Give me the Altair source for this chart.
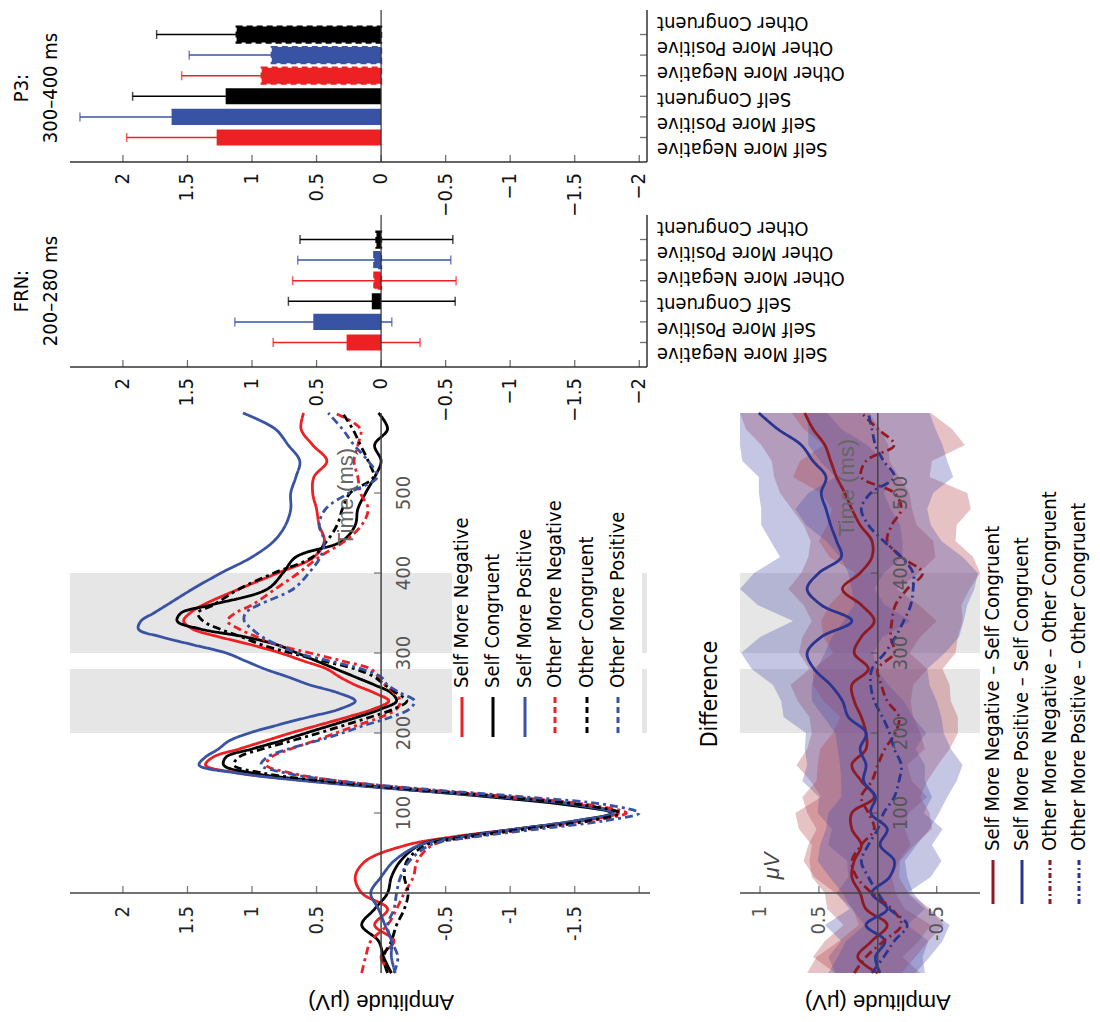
import altair as alt
import pandas as pd

NARROW = "'Liberation Sans Narrow', 'DejaVu Sans Condensed', 'Liberation Sans', sans-serif"
REG = "'Liberation Sans', Arial, sans-serif"
FS = 20

RED = "#ED2024"
BLUE = "#3953A4"
BLACK = "#000000"
DRED = "#8E1B24"
DBLUE = "#2B3590"

# ---------------- bar-chart data ----------------
bar_conditions = ["Self More Negative", "Self More Positive", "Self Congruent",
                  "Other More Negative", "Other More Positive", "Other Congruent"]
bar_colors = [RED, BLUE, BLACK, RED, BLUE, BLACK]
p3_mean = [1.274, 1.623, 1.204, 0.925, 0.847, 1.119]
p3_err = [0.697, 0.710, 0.721, 0.620, 0.639, 0.620]
frn_mean = [0.267, 0.525, 0.072, 0.052, 0.053, 0.036]
frn_err = [0.569, 0.608, 0.646, 0.633, 0.593, 0.592]
bar_tick_values = [2, 1.5, 1, 0.5, 0, -0.5, -1, -1.5, -2]
bar_tick_labels = ["2", "1.5", "1", "0.5", "0", "\u22120.5", "\u22121", "\u22121.5", "\u22122"]

# ---------------- ERP waveform data ----------------
erp_time = [-100, -80, -60, -40, -20, 0, 20, 40,
            60, 70, 80, 90, 100, 110, 120, 130, 140, 150, 160, 170, 180, 190, 200,
            210, 220, 230, 240, 250, 260, 270, 280, 290, 300, 310, 320, 330, 340,
            350, 360, 380, 400, 420, 440, 460, 480, 500, 520, 540, 560, 580, 600]
erp_smn = [-0.08, 0.00, -0.10, 0.05, -0.05, 0.15, 0.20, 0.12,
           -0.20, -0.55, -1.05, -1.55, -1.84, -1.55, -0.95, -0.15, 0.55, 1.10, 1.36, 1.30, 1.10, 0.90, 0.70,
           0.48, 0.26, 0.06, -0.06, 0.05, 0.20, 0.32, 0.42, 0.60, 0.78, 1.00, 1.25, 1.46, 1.53,
           1.48, 1.38, 1.10, 0.80, 0.52, 0.44, 0.48, 0.50, 0.53, 0.52, 0.42, 0.53, 0.62, 0.60]
erp_smp = [-0.11, -0.08, -0.08, -0.03, 0.02, 0.08, 0.00, -0.10,
           -0.30, -0.62, -1.05, -1.50, -1.80, -1.52, -0.92, -0.12, 0.58, 1.12, 1.41, 1.36, 1.26, 1.18, 1.02,
           0.80, 0.56, 0.32, 0.20, 0.33, 0.55, 0.72, 0.90, 1.05, 1.20, 1.45, 1.70, 1.88, 1.86,
           1.76, 1.66, 1.46, 1.24, 1.00, 0.83, 0.74, 0.70, 0.70, 0.66, 0.63, 0.72, 0.82, 1.07]
erp_sc = [-0.08, -0.02, 0.02, 0.15, 0.05, -0.05, -0.08, -0.15,
          -0.30, -0.60, -1.05, -1.50, -1.79, -1.45, -0.85, -0.15, 0.50, 1.00, 1.22, 1.20, 1.00, 0.78, 0.58,
          0.38, 0.18, 0.00, -0.12, -0.08, 0.05, 0.20, 0.35, 0.50, 0.65, 0.80, 1.05, 1.40, 1.58,
          1.55, 1.32, 0.88, 0.76, 0.66, 0.30, 0.20, 0.18, 0.12, 0.05, 0.00, 0.05, -0.05, 0.02]
erp_omn = [0.15, 0.12, 0.08, -0.05, -0.12, -0.18, -0.25, -0.28,
           -0.40, -0.70, -1.15, -1.62, -1.90, -1.62, -1.02, -0.28, 0.32, 0.70, 0.89, 0.85, 0.70, 0.52, 0.35,
           0.18, 0.00, -0.12, -0.15, -0.10, -0.03, 0.02, 0.08, 0.30, 0.55, 0.80, 0.96, 1.10, 1.19,
           1.13, 1.00, 0.82, 0.64, 0.48, 0.28, 0.15, 0.10, 0.16, 0.18, 0.21, 0.18, 0.16, 0.36]
erp_omp = [-0.10, -0.13, -0.08, -0.05, -0.10, -0.12, -0.15, -0.22,
           -0.38, -0.72, -1.22, -1.72, -2.00, -1.76, -1.12, -0.32, 0.33, 0.74, 0.93, 0.88, 0.72, 0.50, 0.30,
           0.12, -0.08, -0.22, -0.26, -0.15, -0.05, 0.00, 0.15, 0.40, 0.65, 0.80, 0.92, 1.00, 1.06,
           1.05, 0.95, 0.68, 0.56, 0.47, 0.44, 0.48, 0.43, 0.25, 0.03, 0.10, 0.21, 0.30, 0.41]
erp_oc = [-0.05, -0.02, -0.08, -0.12, -0.18, -0.21, -0.18, -0.20,
          -0.35, -0.66, -1.12, -1.60, -1.85, -1.56, -0.96, -0.20, 0.45, 0.92, 1.14, 1.10, 0.92, 0.70, 0.48,
          0.28, 0.08, -0.10, -0.20, -0.12, -0.03, 0.05, 0.20, 0.45, 0.70, 0.92, 1.08, 1.25, 1.38,
          1.42, 1.30, 1.10, 0.83, 0.53, 0.42, 0.34, 0.30, 0.24, 0.06, 0.10, 0.16, 0.22, 0.30]
erp_conditions = ["Self More Negative", "Self Congruent", "Self More Positive",
                  "Other More Negative", "Other Congruent", "Other More Positive"]
erp_series = [erp_smn, erp_sc, erp_smp, erp_omn, erp_oc, erp_omp]
erp_colors = [RED, BLACK, BLUE, RED, BLACK, BLUE]
erp_dashes = [[1, 0], [1, 0], [1, 0], [8, 4, 3, 4], [8, 4, 3, 4], [8, 4, 3, 4]]
erp_leg_dashes = [[1, 0], [1, 0], [1, 0], [6, 4], [6, 4], [6, 4]]
bands_start = [200, 300]
bands_end = [280, 400]
amp_tick_values = [2, 1.5, 1, 0.5, -0.5, -1, -1.5, -2]
amp_label_values = [2, 1.5, 1, 0.5, -0.5, -1, -1.5]
amp_labels = ["2", "1.5", "1", "0.5", "-0.5", "-1", "-1.5"]
time_tick_values = [100, 200, 300, 400, 500]
time_labels = ["100", "200", "300", "400", "500"]

# ---------------- difference-wave data ----------------
diff_time = [-100, -80, -60, -40, -20, 0, 20, 40, 60, 80, 100, 120, 140, 160, 180, 200, 220, 240,
             260, 280, 300, 320, 340, 360, 380, 400, 420, 440, 460, 480, 500, 520, 540, 560, 580, 600]
d_smn = [0.00, 0.17, 0.05, -0.08, 0.10, 0.15, 0.22, 0.20, 0.14, 0.22, 0.22, 0.03, 0.14, 0.22, 0.10, 0.10,
         0.14, 0.20, 0.22, 0.08, 0.20, 0.14, 0.03, 0.14, 0.30, 0.15, 0.05, 0.05, 0.15, 0.22, 0.28, 0.35,
         0.40, 0.45, 0.55, 0.62]
d_smp = [-0.02, 0.02, -0.06, 0.10, -0.08, 0.05, -0.10, -0.14, -0.02, -0.08, 0.06, 0.02, 0.12, 0.10, 0.15,
         0.10, 0.25, 0.30, 0.40, 0.54, 0.60, 0.48, 0.22, 0.48, 0.60, 0.50, 0.31, 0.35, 0.40, 0.44, 0.48,
         0.44, 0.55, 0.65, 0.85, 1.01]
d_omn = [0.20, 0.10, -0.05, -0.20, -0.12, 0.05, 0.18, 0.22, 0.14, 0.03, 0.08, 0.14, 0.05, 0.00, -0.06,
         -0.15, -0.18, -0.08, -0.03, 0.00, -0.14, -0.11, -0.12, -0.15, -0.25, -0.38, -0.20, -0.08, -0.12,
         -0.20, -0.14, 0.14, 0.10, -0.14, 0.00, 0.14]
d_omp = [0.05, -0.05, -0.14, -0.25, -0.10, 0.00, 0.08, 0.14, 0.08, 0.00, -0.05, -0.14, -0.18, -0.20, -0.14,
         -0.10, -0.04, 0.03, 0.06, 0.05, -0.06, -0.15, -0.22, -0.28, -0.30, -0.30, -0.20, -0.05, 0.08, 0.14,
         0.06, -0.14, -0.05, 0.02, 0.05, 0.08]
hw_smn = [0.36, 0.38, 0.40, 0.37, 0.33, 0.30, 0.34, 0.38, 0.42, 0.45, 0.48, 0.45, 0.43, 0.47, 0.50, 0.46,
          0.44, 0.48, 0.52, 0.50, 0.47, 0.50, 0.53, 0.49, 0.46, 0.50, 0.54, 0.52, 0.48, 0.51, 0.55, 0.53,
          0.50, 0.54, 0.57, 0.55]
hw_smp = [0.38, 0.40, 0.37, 0.35, 0.32, 0.30, 0.35, 0.40, 0.44, 0.47, 0.45, 0.48, 0.52, 0.50, 0.47, 0.51,
          0.55, 0.52, 0.49, 0.53, 0.56, 0.52, 0.50, 0.54, 0.57, 0.55, 0.52, 0.56, 0.59, 0.55, 0.53, 0.57,
          0.60, 0.56, 0.54, 0.58]
hw_omn = [0.40, 0.42, 0.38, 0.36, 0.33, 0.31, 0.36, 0.41, 0.45, 0.49, 0.52, 0.50, 0.47, 0.51, 0.55, 0.53,
          0.50, 0.54, 0.58, 0.55, 0.52, 0.57, 0.60, 0.56, 0.53, 0.57, 0.61, 0.58, 0.55, 0.59, 0.62, 0.58,
          0.56, 0.60, 0.63, 0.59]
hw_omp = [0.37, 0.39, 0.41, 0.36, 0.32, 0.30, 0.33, 0.37, 0.41, 0.44, 0.47, 0.45, 0.49, 0.52, 0.48, 0.46,
          0.50, 0.53, 0.50, 0.47, 0.51, 0.54, 0.51, 0.48, 0.52, 0.55, 0.52, 0.49, 0.53, 0.56, 0.53, 0.50,
          0.54, 0.57, 0.54, 0.52]
diff_labels = ["Self More Negative \u2013 Self Congruent", "Self More Positive \u2013 Self Congruent",
               "Other More Negative \u2013 Other Congruent", "Other More Positive \u2013 Other Congruent"]
diff_series = [d_smn, d_smp, d_omn, d_omp]
diff_hw = [hw_smn, hw_smp, hw_omn, hw_omp]
diff_colors = [DRED, DBLUE, DRED, DBLUE]
diff_fill = ["#B0404C", "#4A4FAA", "#B0404C", "#4A4FAA"]
diff_dashes = [[1, 0], [1, 0], [9, 4, 2, 4], [9, 4, 2, 4]]
diff_leg_dashes = [[1, 0], [1, 0], [5, 3, 2, 3], [5, 3, 2, 3]]
diff_tick_values = [1, 0.5, -0.5]
diff_tick_labels = ["1", "0.5", "-0.5"]


# ---------------- layout (page pixels; the view starts at the 8px page margin) ----------------
def P(v):
    return v - 8


A_MIN, A_MAX = -2.06, 2.41
D_MIN, D_MAX = -0.868, 1.17
L_LEFT, L_RIGHT = 70, 647
ERP_TOP, ERP_BOT = 413, 973
D_LEFT, D_RIGHT = 740, 980

ONE = pd.DataFrame({"k": [0]})


def X(f, s):
    return alt.X(f, scale=s, axis=None)


def Y(f, s):
    return alt.Y(f, scale=s, axis=None)


def XD(v, s):
    return alt.XDatum(v, scale=s, axis=None)


def YD(v, s):
    return alt.YDatum(v, scale=s, axis=None)


PIX = None  # raw pixel channel (no scale)

bar_x = alt.Scale(domain=[A_MIN, A_MAX], range=[P(L_RIGHT), P(L_LEFT)], nice=False, zero=False)
erp_x = alt.Scale(domain=[A_MIN, A_MAX], range=[P(L_RIGHT), P(L_LEFT)], nice=False, zero=False)
erp_y = alt.Scale(domain=[-100, 600], range=[P(ERP_BOT), P(ERP_TOP)], nice=False, zero=False)
diff_x = alt.Scale(domain=[D_MIN, D_MAX], range=[P(D_RIGHT), P(D_LEFT)], nice=False, zero=False,
                   clamp=True)

bar_axis_order = list(reversed(bar_conditions))
bar_csc = alt.Scale(domain=bar_conditions, range=bar_colors)


def bar_layers(mean, err, top, bottom, title_lines, title_cy):
    df = pd.DataFrame({"cond": bar_conditions, "mean": mean, "err": err})
    df["lo"] = df["mean"] - df["err"]
    df["hi"] = df["mean"] + df["err"]
    df["other"] = df["cond"].str.startswith("Other")
    ysc = alt.Scale(domain=bar_axis_order, range=[P(top), P(bottom)], paddingInner=0.22,
                    paddingOuter=0.8)
    col = alt.Color("cond:N", scale=bar_csc, legend=None)
    base = alt.Chart(df)
    out = []
    out.append(base.mark_rule(strokeWidth=1.5).encode(
        x=X("lo:Q", bar_x), x2="hi:Q", y=Y("cond:N", ysc), color=col))
    out.append(base.mark_tick(orient="vertical", size=9, thickness=1.5).encode(
        x=X("lo:Q", bar_x), y=Y("cond:N", ysc), color=col))
    out.append(base.mark_tick(orient="vertical", size=9, thickness=1.5).encode(
        x=X("hi:Q", bar_x), y=Y("cond:N", ysc), color=col))
    out.append(base.mark_bar().encode(
        x=X("mean:Q", bar_x), x2=alt.X2Datum(0), y=Y("cond:N", ysc), color=col,
        stroke=alt.Stroke("cond:N", scale=bar_csc, legend=None),
        strokeWidth=alt.condition("datum.other", alt.value(2.2), alt.value(0)),
        strokeDash=alt.condition("datum.other", alt.value([6, 4]), alt.value([1, 0]))))
    out.append(alt.Chart(ONE).mark_rule(color="#333", strokeWidth=1.2).encode(
        x=XD(0, bar_x), y=alt.value(P(top)), y2=alt.value(P(bottom))))
    out.append(alt.Chart(ONE).mark_rule(color="#333", strokeWidth=1.5).encode(
        x=XD(A_MAX, bar_x), x2=alt.X2Datum(A_MIN), y=alt.value(P(bottom))))
    out.append(alt.Chart(ONE).mark_rule(color="#333", strokeWidth=1.5).encode(
        x=XD(A_MIN, bar_x), y=alt.value(P(top)), y2=alt.value(P(bottom))))
    tdf = pd.DataFrame({"v": bar_tick_values, "lab": bar_tick_labels})
    out.append(alt.Chart(tdf).mark_tick(orient="vertical", size=7, thickness=1.3, color="#333",
                                        yOffset=-3.5).encode(
        x=X("v:Q", bar_x), y=alt.value(P(bottom))))
    out.append(alt.Chart(tdf).mark_text(angle=270, align="right", baseline="middle", font=NARROW,
                                        fontSize=FS, color="#111").encode(
        x=X("v:Q", bar_x), y=alt.value(P(bottom) + 11), text="lab:N"))
    out.append(base.mark_tick(orient="horizontal", size=7, thickness=1.3, color="#333",
                              xOffset=-3.5).encode(
        y=Y("cond:N", ysc), x=alt.value(P(L_RIGHT))))
    out.append(base.mark_text(angle=180, align="right", baseline="middle", font=NARROW,
                              fontSize=FS, color="#000").encode(
        y=Y("cond:N", ysc), x=alt.value(P(L_RIGHT) + 10), text="cond:N"))
    ttl = pd.DataFrame({"lab": title_lines, "px": [P(22), P(51)]})
    out.append(alt.Chart(ttl).mark_text(angle=270, align="center", baseline="middle", font=NARROW,
                                        fontSize=FS, color="#000").encode(
        x=alt.X("px:Q", scale=PIX, axis=None), y=alt.value(P(title_cy)), text="lab:N"))
    return out


bar_all = (bar_layers(p3_mean, p3_err, 10, 162, ["P3:", "300\u2013400 ms"], 88)
           + bar_layers(frn_mean, frn_err, 215, 367, ["FRN:", "200\u2013280 ms"], 291))

# ---------------- ERP panel ----------------
rows = []
for cond, vals in zip(erp_conditions, erp_series):
    for t, a in zip(erp_time, vals):
        rows.append({"cond": cond, "t": t, "a": a})
erp_df = pd.DataFrame(rows)
band_df = pd.DataFrame({"t0": bands_start, "t1": bands_end})
erp_csc = alt.Scale(domain=erp_conditions, range=erp_colors)
erp_dsc = alt.Scale(domain=erp_conditions, range=erp_dashes)
erp_ldsc = alt.Scale(domain=erp_conditions, range=erp_leg_dashes)

erp_bands = alt.Chart(band_df).mark_rect(color="#e6e6e6").encode(
    y=Y("t0:Q", erp_y), y2="t1:Q", x=alt.value(P(L_LEFT)), x2=alt.value(P(L_RIGHT)))
erp_box = alt.Chart(ONE).mark_rect(color="white").encode(
    x=alt.value(P(452)), x2=alt.value(P(642)), y=alt.value(P(503)), y2=alt.value(P(742)))
erp_lines = alt.Chart(erp_df).mark_line(strokeWidth=2.8, interpolate="catmull-rom").encode(
    x=X("a:Q", erp_x), y=Y("t:Q", erp_y), order="t:Q",
    color=alt.Color("cond:N", scale=erp_csc, legend=None),
    strokeDash=alt.StrokeDash("cond:N", scale=erp_dsc, legend=None))

erp_axes = [
    alt.Chart(ONE).mark_rule(color="#444", strokeWidth=1.5).encode(
        y=YD(0, erp_y), x=alt.value(P(L_LEFT)), x2=alt.value(P(L_RIGHT + 3))),
    alt.Chart(ONE).mark_rule(color="#444", strokeWidth=1.5).encode(
        x=XD(0, erp_x), y=alt.value(P(ERP_TOP)), y2=alt.value(P(ERP_BOT))),
    alt.Chart(pd.DataFrame({"v": amp_tick_values})).mark_tick(
        orient="vertical", size=7, thickness=1.3, color="#444", yOffset=-3.5).encode(
        x=X("v:Q", erp_x), y=YD(0, erp_y)),
    alt.Chart(pd.DataFrame({"v": amp_label_values, "lab": amp_labels})).mark_text(
        angle=270, align="right", baseline="middle", font=NARROW, fontSize=FS, color="#222",
        dx=-13).encode(x=X("v:Q", erp_x), y=YD(0, erp_y), text="lab:N"),
    alt.Chart(pd.DataFrame({"v": time_tick_values})).mark_tick(
        orient="horizontal", size=7, thickness=1.3, color="#444", xOffset=-3.5).encode(
        y=Y("v:Q", erp_y), x=XD(0, erp_x)),
    alt.Chart(pd.DataFrame({"v": time_tick_values, "lab": time_labels})).mark_text(
        angle=270, align="center", baseline="top", font=NARROW, fontSize=FS, color="#555",
        dy=13).encode(y=Y("v:Q", erp_y), x=XD(0, erp_x), text="lab:N"),
]

leg_df = pd.DataFrame({"cond": erp_conditions, "px": [P(v) for v in [462, 493, 525, 555, 587, 618]]})
erp_legend = [
    alt.Chart(leg_df).mark_rule(strokeWidth=3).encode(
        x=alt.X("px:Q", scale=PIX, axis=None), y=alt.value(P(697)), y2=alt.value(P(737)),
        color=alt.Color("cond:N", scale=erp_csc, legend=None),
        strokeDash=alt.StrokeDash("cond:N", scale=erp_ldsc, legend=None)),
    alt.Chart(leg_df).mark_text(angle=270, align="left", baseline="middle", font=NARROW,
                                fontSize=FS, color="#000").encode(
        x=alt.X("px:Q", scale=PIX, axis=None), y=alt.value(P(688)), text="cond:N"),
]
erp_ann = [
    alt.Chart(pd.DataFrame({"lab": ["Time (ms)"]})).mark_text(
        angle=270, align="center", baseline="middle", font=REG, fontSize=22, color="#666").encode(
        x=alt.value(P(346)), y=alt.value(P(497)), text="lab:N"),
    alt.Chart(pd.DataFrame({"lab": ["Amplitude (\u03bcV)"]})).mark_text(
        angle=180, align="center", baseline="middle", font=REG, fontSize=22, color="#000").encode(
        x=XD(0, erp_x), y=alt.value(P(1002)), text="lab:N"),
]

# ---------------- Difference panel ----------------
drows = []
for lab, vals, hws in zip(diff_labels, diff_series, diff_hw):
    for t, v, h in zip(diff_time, vals, hws):
        drows.append({"series": lab, "t": t, "v": v, "lo": v - h, "hi": v + h})
diff_df = pd.DataFrame(drows)
d_csc = alt.Scale(domain=diff_labels, range=diff_colors)
d_fsc = alt.Scale(domain=diff_labels, range=diff_fill)
d_dsc = alt.Scale(domain=diff_labels, range=diff_dashes)
d_ldsc = alt.Scale(domain=diff_labels, range=diff_leg_dashes)

d_bands = alt.Chart(band_df).mark_rect(color="#e6e6e6").encode(
    y=Y("t0:Q", erp_y), y2="t1:Q", x=alt.value(P(D_LEFT)), x2=alt.value(P(D_RIGHT)))
d_area = alt.Chart(diff_df).mark_area(orient="horizontal", opacity=0.32).encode(
    y=alt.Y("t:Q", scale=erp_y, axis=None),
    x=alt.X("lo:Q", scale=diff_x, axis=None, stack=None), x2="hi:Q",
    color=alt.Color("series:N", scale=d_fsc, legend=None))
d_lines = alt.Chart(diff_df).mark_line(strokeWidth=2.8, interpolate="catmull-rom").encode(
    y=Y("t:Q", erp_y), x=X("v:Q", diff_x), order="t:Q",
    color=alt.Color("series:N", scale=d_csc, legend=None),
    strokeDash=alt.StrokeDash("series:N", scale=d_dsc, legend=None))

d_axes = [
    alt.Chart(ONE).mark_rule(color="#444", strokeWidth=1.5).encode(
        y=YD(0, erp_y), x=alt.value(P(D_LEFT)), x2=alt.value(P(D_RIGHT))),
    alt.Chart(ONE).mark_rule(color="#444", strokeWidth=1.5).encode(
        x=XD(0, diff_x), y=alt.value(P(ERP_TOP)), y2=alt.value(P(ERP_BOT))),
    alt.Chart(pd.DataFrame({"v": diff_tick_values})).mark_tick(
        orient="vertical", size=7, thickness=1.3, color="#444", yOffset=-3.5).encode(
        x=X("v:Q", diff_x), y=YD(0, erp_y)),
    alt.Chart(pd.DataFrame({"v": diff_tick_values, "lab": diff_tick_labels})).mark_text(
        angle=270, align="right", baseline="middle", font=NARROW, fontSize=FS, color="#555",
        dx=-13).encode(x=X("v:Q", diff_x), y=YD(0, erp_y), text="lab:N"),
    alt.Chart(pd.DataFrame({"v": time_tick_values})).mark_tick(
        orient="horizontal", size=7, thickness=1.3, color="#444", xOffset=-3.5).encode(
        y=Y("v:Q", erp_y), x=XD(0, diff_x)),
    alt.Chart(pd.DataFrame({"v": time_tick_values, "lab": time_labels})).mark_text(
        angle=270, align="center", baseline="top", font=NARROW, fontSize=FS, color="#555",
        dy=13).encode(y=Y("v:Q", erp_y), x=XD(0, diff_x), text="lab:N"),
]
d_leg_df = pd.DataFrame({"series": diff_labels, "px": [P(v) for v in [993, 1022, 1050, 1079]]})
d_legend = [
    alt.Chart(d_leg_df).mark_rule(strokeWidth=3).encode(
        x=alt.X("px:Q", scale=PIX, axis=None), y=alt.value(P(860)), y2=alt.value(P(904)),
        color=alt.Color("series:N", scale=d_csc, legend=None),
        strokeDash=alt.StrokeDash("series:N", scale=d_ldsc, legend=None)),
    alt.Chart(d_leg_df).mark_text(angle=270, align="left", baseline="middle", font=NARROW,
                                  fontSize=FS, color="#000").encode(
        x=alt.X("px:Q", scale=PIX, axis=None), y=alt.value(P(851)), text="series:N"),
]
d_ann = [
    alt.Chart(pd.DataFrame({"lab": ["Time (ms)"]})).mark_text(
        angle=270, align="center", baseline="middle", font=REG, fontSize=22, color="#666").encode(
        x=alt.value(P(847)), y=alt.value(P(488)), text="lab:N"),
    alt.Chart(pd.DataFrame({"lab": ["Difference"]})).mark_text(
        angle=270, align="center", baseline="middle", font=NARROW, fontSize=23, color="#000").encode(
        x=alt.value(P(710)), y=alt.value(P(694)), text="lab:N"),
    alt.Chart(pd.DataFrame({"lab": ["\u03bcV"]})).mark_text(
        angle=270, align="center", baseline="middle", font=REG, fontSize=22, color="#444",
        fontStyle="italic").encode(x=alt.value(P(772)), y=alt.value(P(866)), text="lab:N"),
    alt.Chart(pd.DataFrame({"lab": ["Amplitude (\u03bcV)"]})).mark_text(
        angle=180, align="center", baseline="middle", font=REG, fontSize=22, color="#000").encode(
        x=XD(0, diff_x), y=alt.value(P(1002)), text="lab:N"),
]

all_layers = ([erp_bands, d_bands, erp_box, d_area, erp_lines, d_lines]
              + bar_all + erp_axes + d_axes + erp_legend + d_legend + erp_ann + d_ann)

chart = alt.layer(*all_layers).resolve_scale(
    x="independent", y="independent", color="independent", stroke="independent",
    strokeDash="independent", strokeWidth="independent"
).properties(
    width=1084, height=1006, padding=0, autosize=alt.AutoSizeParams(type="none")
).configure_view(stroke=None)

chart.save("out.html", embed_options={"renderer": "svg", "actions": False})
